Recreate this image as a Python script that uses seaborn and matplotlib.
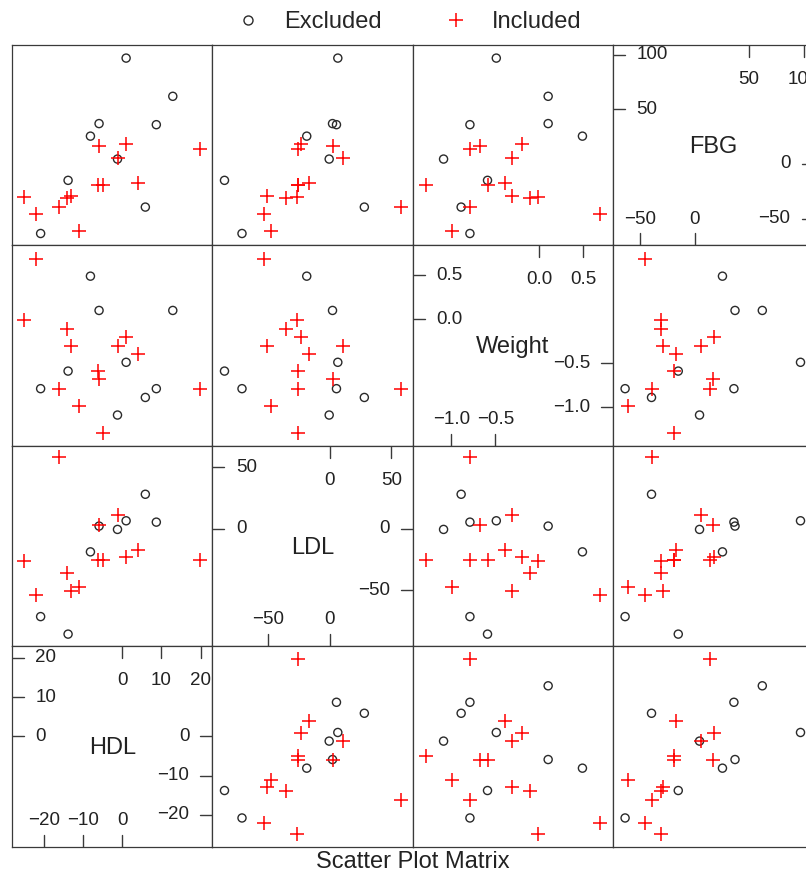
import numpy as np
import pandas as pd
import matplotlib
matplotlib.use("Agg")
import matplotlib.pyplot as plt
import matplotlib.transforms as mtransforms
from matplotlib.lines import Line2D
import seaborn as sns

# ---------------- data ----------------
group = ["Excluded"] * 9 + ["Included"] * 13
HDL = [1.0, 12.9, -5.9, 8.7, -8.1, -1.2, -13.8, 5.9, -20.8,
       19.8, 0.85, -5.9, -1.1, 4.0, -6.1, -5.0, -13.0, -14.0, -25.0, -16.1, -22.1, -11.0]
LDL = [6.5, np.nan, 2.2, 5.4, -18.7, -0.5, -85.4, 28.0, -71.2,
       -25.4, -23.0, 2.7, 11.1, -16.8, -25.4, -25.4, -50.7, -35.8, -26.3, 58.0, -53.4, -47.4]
Weight = [-0.49, 0.10, 0.10, -0.79, 0.49, -1.09, -0.59, -0.89, -0.79,
          -0.79, -0.20, -0.68, -0.31, -0.39, -0.59, -1.29, -0.31, -0.11, -0.01, -0.79, 0.69, -0.99]
FBG = [97.0, 62.0, 37.0, 36.0, 25.5, 4.5, -15.0, -39.5, -63.7,
       13.8, 18.2, 16.5, 5.6, -17.0, -19.0, -19.0, -29.2, -31.2, -30.5, -39.5, -45.5, -61.3]

columns = ["HDL", "LDL", "Weight", "FBG"]          # left -> right
rows = ["FBG", "Weight", "LDL", "HDL"]             # top -> bottom
limits = {"HDL": (-28.1, 23.0), "LDL": (-95.2, 67.3),
          "Weight": (-1.44, 0.84), "FBG": (-74.6, 109.0)}
low_ticks = {"HDL": [-20, -10, 0], "LDL": [-50, 0], "Weight": [-1.0, -0.5], "FBG": [-50, 0]}
high_ticks = {"HDL": [0, 10, 20], "LDL": [0, 50], "Weight": [0.0, 0.5], "FBG": [50, 100]}
legend_labels = ["Excluded", "Included"]
title = "Scatter Plot Matrix"

df = pd.DataFrame({"group": group, "HDL": HDL, "LDL": LDL, "Weight": Weight, "FBG": FBG})

# ---------------- style ----------------
sns.set_theme(style="white")
plt.rcParams["font.family"] = ["Liberation Sans", "DejaVu Sans"]
plt.rcParams["axes.unicode_minus"] = True

FW, FH = 806, 875
fig = plt.figure(figsize=(FW / 100, FH / 100), dpi=100)
fig.patch.set_facecolor("white")

X0, Y0, P = 12.0, 45.0, 200.4
EDGE = "#3a3a3a"
CIRC = "#2a2a2a"
RED = "#ff0000"
TICK_FS = 13.5
VAR_FS = 17


def fmt(var, v):
    s = f"{v:.1f}" if var == "Weight" else f"{v:.0f}"
    return s.replace("-", "\u2212")


for i, yv in enumerate(rows):
    for j, xv in enumerate(columns):
        left = X0 + j * P
        top = Y0 + i * P
        ax = fig.add_axes([left / FW, 1 - (top + P) / FH, P / FW, P / FH])
        ax.set_xlim(*limits[xv])
        ax.set_ylim(*limits[yv])
        ax.set_xticks([])
        ax.set_yticks([])
        for sp in ax.spines.values():
            sp.set_color(EDGE)
            sp.set_linewidth(0.9)
        ax.set_facecolor("white")

        if xv == yv:
            var = xv
            tx = mtransforms.blended_transform_factory(ax.transData, ax.transAxes)
            ty = mtransforms.blended_transform_factory(ax.transAxes, ax.transData)
            tl = 12 / P
            # low values: bottom and right edges
            for v in low_ticks[var]:
                ax.plot([v, v], [0, tl], transform=tx, color=EDGE, lw=1.0)
                ax.text(v, 21.7 / P, fmt(var, v), transform=tx, ha="center",
                        va="baseline", fontsize=TICK_FS, color="#222222")
                ax.plot([1 - tl, 1], [v, v], transform=ty, color=EDGE, lw=1.0)
                ax.text(1 - 23 / P, v, fmt(var, v), transform=ty, ha="right",
                        va="center", fontsize=TICK_FS, color="#222222")
            # high values: top and left edges
            for v in high_ticks[var]:
                ax.plot([v, v], [1 - tl, 1], transform=tx, color=EDGE, lw=1.0)
                ax.text(v, 1 - 38.8 / P, fmt(var, v), transform=tx, ha="center",
                        va="baseline", fontsize=TICK_FS, color="#222222")
                ax.plot([0, tl], [v, v], transform=ty, color=EDGE, lw=1.0)
                ax.text(23.5 / P, v, fmt(var, v), transform=ty, ha="left",
                        va="center", fontsize=TICK_FS, color="#222222")
            ax.text(0.5, 1 - 108 / P, var, transform=ax.transAxes, ha="center",
                    va="baseline", fontsize=VAR_FS, color="#222222")
        else:
            sns.scatterplot(data=df[df["group"] == "Excluded"], x=xv, y=yv, ax=ax,
                            marker="o", s=34, color="none", edgecolor=CIRC,
                            linewidth=1.0, legend=False)
            sns.scatterplot(data=df[df["group"] == "Included"], x=xv, y=yv, ax=ax,
                            marker="+", s=100, color=RED, linewidth=1.1, legend=False)
            ax.set_xlim(*limits[xv])
            ax.set_ylim(*limits[yv])
            ax.set_xlabel("")
            ax.set_ylabel("")
            ax.set_xticks([])
            ax.set_yticks([])

handles = [Line2D([], [], linestyle="none", marker="o", markersize=6.5,
                  markerfacecolor="none", markeredgecolor=CIRC, markeredgewidth=1.0),
           Line2D([], [], linestyle="none", marker="+", markersize=10,
                  markeredgecolor=RED, markeredgewidth=1.1)]
fig.legend(handles, legend_labels, ncol=2, loc="center",
           bbox_to_anchor=(409 / FW, 1 - 22 / FH), frameon=False,
           fontsize=17, handlelength=1.0, handletextpad=1.03, columnspacing=2.64,
           borderpad=0.0)

fig.text(413 / FW, 1 - 862 / FH, title, ha="center", va="center",
         fontsize=17, color="#222222")

fig.savefig("out.png", dpi=100, facecolor="white")
